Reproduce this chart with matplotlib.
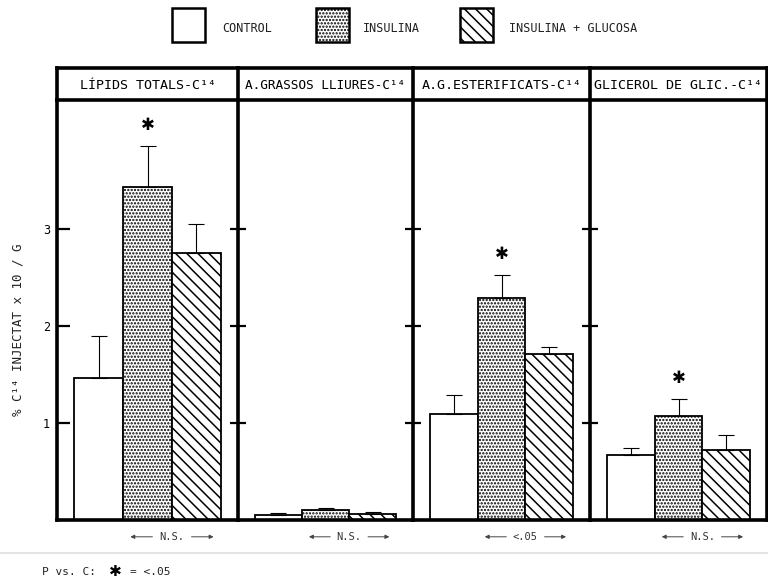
import matplotlib.pyplot as plt
from matplotlib.patches import Rectangle

plt.rcParams['font.family'] = ['DejaVu Sans Mono', 'DejaVu Sans']
plt.rcParams['hatch.linewidth'] = 1.1

# % C14 injectat x 10 / g, per fraccio lipidica
panels = ['LÍPIDS TOTALS-C¹⁴', 'A.GRASSOS LLIURES-C¹⁴',
          'A.G.ESTERIFICATS-C¹⁴', 'GLICEROL DE GLIC.-C¹⁴']
groups = ['CONTROL', 'INSULINA', 'INSULINA + GLUCOSA']
control = [1.46, 0.05, 1.09, 0.67]
control_err = [0.44, 0.02, 0.20, 0.07]
insulina = [3.43, 0.10, 2.29, 1.07]
insulina_err = [0.43, 0.02, 0.24, 0.18]
glucosa = [2.75, 0.06, 1.71, 0.72]
glucosa_err = [0.30, 0.02, 0.07, 0.16]
star = [True, False, True, True]   # insulina vs control p < .05
p_text = ['N.S.', 'N.S.', '<.05', 'N.S.']

hatches = ['', '.....', '\\\\\\']

W, H = 768, 579
fig = plt.figure(figsize=(W / 100, H / 100), dpi=100)

lefts = [57, 238, 413, 590, 767]
y_base, y_top, y_head = 520, 100, 68
lw_frame = 2.6

for i, title in enumerate(panels):
    l, r = lefts[i], lefts[i + 1]
    ax = fig.add_axes([l / W, (H - y_base) / H, (r - l) / W, (y_base - y_top) / H])
    ax.set_xlim(0, 3.7)
    ax.set_ylim(0, 4.33)
    vals = [control[i], insulina[i], glucosa[i]]
    errs = [control_err[i], insulina_err[i], glucosa_err[i]]
    xs = [0.85, 1.85, 2.85]
    for x, v, e, h in zip(xs, vals, errs, hatches):
        ax.bar(x, v, width=1.0, color='white', edgecolor='black',
               hatch=h, linewidth=1.3, zorder=2)
        ax.errorbar(x, v, yerr=[[0], [e]], fmt='none', ecolor='black',
                    elinewidth=0.8, capsize=6, capthick=0.8, zorder=3)
    if star[i]:
        ax.text(xs[1], insulina[i] + insulina_err[i] + 0.12, '✱',
                family='DejaVu Sans', fontsize=12, fontweight='bold',
                ha='center', va='bottom')

    # significance note under the insulina / glucosa pair
    xc = 2.35
    ax.text(xc, -0.04, p_text[i], transform=ax.get_xaxis_transform(),
            ha='center', va='center', fontsize=7.5, color='#333333')
    for a, b in [(xc - 0.4, xc - 0.85), (xc + 0.4, xc + 0.85)]:
        ax.annotate('', xy=(b, -0.04), xytext=(a, -0.04),
                    xycoords=ax.get_xaxis_transform(),
                    textcoords=ax.get_xaxis_transform(),
                    arrowprops=dict(arrowstyle='-|>', lw=0.7, color='#444444',
                                    mutation_scale=6, shrinkA=0, shrinkB=0),
                    annotation_clip=False)

    for s in ['left', 'bottom', 'right']:
        ax.spines[s].set_linewidth(lw_frame)
    ax.spines['top'].set_visible(False)
    ax.spines['right'].set_visible(i == 3)
    ax.set_xticks([])
    ax.set_yticks([1, 2, 3])
    if i == 0:
        ax.tick_params(axis='y', direction='in', length=9, width=1.6,
                       labelsize=8.5, pad=5)
    else:
        ax.tick_params(axis='y', direction='inout', length=11, width=1.6,
                       labelleft=False)

    # title box above each panel
    axt = fig.add_axes([l / W, (H - y_top) / H, (r - l) / W, (y_top - y_head) / H])
    axt.set_xticks([])
    axt.set_yticks([])
    for s in axt.spines.values():
        s.set_linewidth(lw_frame)
    axt.spines['right'].set_visible(i == 3)
    axt.text(0.5, 0.45, title, ha='center', va='center',
             fontsize=9.6 if i != 1 else 9.2, transform=axt.transAxes)

# legend, axis label and footnote on an overlay in pixel units
ov = fig.add_axes([0, 0, 1, 1])
ov.set_xlim(0, W)
ov.set_ylim(H, 0)
ov.axis('off')
for x0, xt, name, h in zip([172, 316, 460], [222, 363, 509], groups, hatches):
    ov.add_patch(Rectangle((x0, 8), 33, 34, facecolor='white', edgecolor='black',
                           hatch=h, linewidth=1.8))
    ov.text(xt, 29, name, fontsize=8.5, va='center', ha='left', color='#222222')

ov.text(18, 330, '% C¹⁴ INJECTAT x 10 / G', rotation=90, fontsize=9,
        ha='center', va='center', color='#222222')
ov.plot([0, W], [553, 553], color='#e4e4e4', lw=1.5)
ov.text(42, 572, 'P vs. C:', fontsize=8, va='center', ha='left', color='#222222')
ov.text(115, 572, '✱', family='DejaVu Sans', fontsize=11, fontweight='bold',
        va='center', ha='center')
ov.text(130, 572, '= <.05', fontsize=8, va='center', ha='left', color='#222222')

fig.savefig('out.png', dpi=100, facecolor='white')
